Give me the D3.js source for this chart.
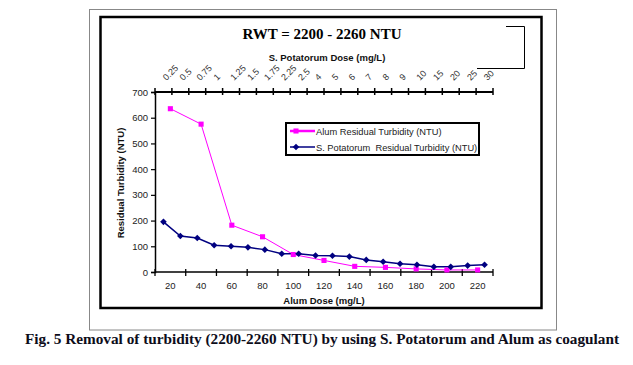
<!DOCTYPE html>
<html>
<head>
<meta charset="utf-8">
<script src="https://cdn.jsdelivr.net/npm/d3@7"></script>
<style>
  body { margin: 0; background: #fff; }
  svg { display: block; }
</style>
</head>
<body>
<div id="chart"></div>
<script>
// data
const alumDose = ["20", "40", "60", "80", "100", "120", "140", "160", "180", "200", "220"];
const alumTurbidity = [635, 575, 182, 137, 68, 45, 22, 18, 12, 8, 8];

const potatorumDose = ["0.25", "0.5", "0.75", "1", "1.25", "1.5", "1.75", "2.25", "2.5", "4",
                       "5", "6", "7", "8", "9", "10", "15", "20", "25", "30"];
const potatorumTurbidity = [195, 140, 132, 104, 100, 96, 87, 71, 71, 64,
                            63, 60, 47, 40, 32, 28, 20, 20, 25, 28];

const yTicks = [0, 100, 200, 300, 400, 500, 600, 700];

const W = 633, H = 365;
const plot = { left: 155, right: 493, top: 92, bottom: 272 };

const svg = d3.select("#chart").append("svg")
    .attr("width", W)
    .attr("height", H);

// frames
svg.append("rect")
    .attr("x", 89.5).attr("y", 9.5).attr("width", 467).attr("height", 320.5)
    .attr("fill", "none").attr("stroke", "#888").attr("stroke-width", 1);
svg.append("rect")
    .attr("x", 100.5).attr("y", 17).attr("width", 441).attr("height", 291)
    .attr("fill", "none").attr("stroke", "#000").attr("stroke-width", 2.5);
svg.append("path")
    .attr("d", "M506,26.5H524.5V68.5H477")
    .attr("fill", "none").attr("stroke", "#000").attr("stroke-width", 1);

const x = d3.scaleBand().domain(alumDose).range([plot.left, plot.right]);
const x2 = d3.scaleBand().domain(potatorumDose).range([plot.left, plot.right]);
const y = d3.scaleLinear().domain([0, 700]).range([plot.bottom, plot.top]);

const labelFont = "'Liberation Sans', Arial, sans-serif";

// y axis
const yAxis = svg.append("g")
    .attr("transform", `translate(${plot.left},0)`)
    .call(d3.axisLeft(y).tickValues(yTicks).tickSize(4).tickPadding(3).tickFormat(d3.format("d")));
yAxis.select(".domain").attr("stroke", "#000").attr("stroke-width", 1.5);
yAxis.selectAll(".tick line").attr("stroke", "#000").attr("stroke-width", 1.2);
yAxis.selectAll("text")
    .attr("font-family", labelFont).attr("font-size", 9.5).attr("fill", "#222");

// bottom axis: labels centred on categories, ticks on category edges
const xAxis = svg.append("g")
    .attr("transform", `translate(0,${plot.bottom})`)
    .call(d3.axisBottom(x).tickSize(0).tickPadding(10));
xAxis.select(".domain").remove();
xAxis.selectAll("text")
    .attr("font-family", labelFont).attr("font-size", 9.5).attr("fill", "#222");

const xEdges = alumDose.map(d => x(d)).concat([x.range()[1]]);
svg.append("line")
    .attr("x1", plot.left).attr("x2", plot.right)
    .attr("y1", plot.bottom).attr("y2", plot.bottom)
    .attr("stroke", "#000").attr("stroke-width", 1.5);
svg.selectAll("line.xtick")
    .data(xEdges)
    .enter().append("line")
    .attr("class", "xtick")
    .attr("x1", d => d).attr("x2", d => d)
    .attr("y1", plot.bottom - 3).attr("y2", plot.bottom + 4)
    .attr("stroke", "#000").attr("stroke-width", 1.3);

// top axis (S. Potatorum dose)
const x2Edges = potatorumDose.map(d => x2(d)).concat([x2.range()[1]]);
svg.append("line")
    .attr("x1", plot.left).attr("x2", plot.right)
    .attr("y1", plot.top).attr("y2", plot.top)
    .attr("stroke", "#000").attr("stroke-width", 2);
svg.selectAll("line.x2tick")
    .data(x2Edges)
    .enter().append("line")
    .attr("class", "x2tick")
    .attr("x1", d => d).attr("x2", d => d)
    .attr("y1", plot.top - 4).attr("y2", plot.top + 3)
    .attr("stroke", "#000").attr("stroke-width", 1.5);
svg.selectAll("text.x2label")
    .data(potatorumDose)
    .enter().append("text")
    .attr("class", "x2label")
    .attr("transform", d => `translate(${x2(d) + x2.bandwidth() / 2 + 3},${plot.top - 11}) rotate(-45)`)
    .attr("text-anchor", "start")
    .attr("font-family", labelFont).attr("font-size", 9)
    .attr("fill", "#333")
    .text(d => d);

// axis titles
svg.append("text")
    .attr("x", 322).attr("y", 39)
    .attr("text-anchor", "middle")
    .attr("font-family", "'Liberation Serif', 'Times New Roman', serif")
    .attr("font-weight", "bold").attr("font-size", 15)
    .text("RWT = 2200 - 2260 NTU");
svg.append("text")
    .attr("x", 327).attr("y", 61)
    .attr("text-anchor", "middle")
    .attr("font-family", labelFont).attr("font-weight", "bold").attr("font-size", 9.5)
    .attr("fill", "#111")
    .text("S. Potatorum Dose (mg/L)");
svg.append("text")
    .attr("x", 324).attr("y", 304)
    .attr("text-anchor", "middle")
    .attr("font-family", labelFont).attr("font-weight", "bold").attr("font-size", 9.5)
    .attr("fill", "#111")
    .text("Alum Dose (mg/L)");
svg.append("text")
    .attr("transform", `translate(124,183) rotate(-90)`)
    .attr("text-anchor", "middle")
    .attr("font-family", labelFont).attr("font-weight", "bold").attr("font-size", 9.5)
    .attr("fill", "#111")
    .text("Residual Turbidity (NTU)");

// series
const pink = "#ff00ff", navy = "#000080";

const alumLine = d3.line()
    .x((d, i) => x(alumDose[i]) + x.bandwidth() / 2)
    .y(d => y(d));
const potLine = d3.line()
    .x((d, i) => x2(potatorumDose[i]) + x2.bandwidth() / 2)
    .y(d => y(d));

svg.append("path")
    .datum(alumTurbidity)
    .attr("d", alumLine)
    .attr("fill", "none").attr("stroke", pink).attr("stroke-width", 1);
svg.append("path")
    .datum(potatorumTurbidity)
    .attr("d", potLine)
    .attr("fill", "none").attr("stroke", navy).attr("stroke-width", 1.5);

const square = d3.symbol().type(d3.symbolSquare).size(26);
// Excel-style diamond: a square turned 45 degrees
const diamond = d3.symbol().type(d3.symbolSquare).size(22);

svg.selectAll("path.alum")
    .data(alumTurbidity)
    .enter().append("path")
    .attr("class", "alum")
    .attr("d", square)
    .attr("transform", (d, i) => `translate(${x(alumDose[i]) + x.bandwidth() / 2},${y(d)})`)
    .attr("fill", pink);
svg.selectAll("path.pot")
    .data(potatorumTurbidity)
    .enter().append("path")
    .attr("class", "pot")
    .attr("d", diamond)
    .attr("transform", (d, i) => `translate(${x2(potatorumDose[i]) + x2.bandwidth() / 2},${y(d)}) rotate(45)`)
    .attr("fill", navy);

// legend
const legend = svg.append("g").attr("transform", "translate(286,123)");
legend.append("rect")
    .attr("width", 193).attr("height", 32)
    .attr("fill", "#fff").attr("stroke", "#000").attr("stroke-width", 2);
const legendItems = [
    { label: "Alum Residual Turbidity (NTU)", color: pink, sym: square, w: 2.5, rot: 0 },
    { label: "S. Potatorum  Residual Turbidity (NTU)", color: navy, sym: diamond, w: 1.5, rot: 45 }
];
legendItems.forEach((d, i) => {
    const g = legend.append("g").attr("transform", `translate(0,${8 + i * 16})`);
    g.append("line").attr("x1", 4).attr("x2", 29).attr("y1", 0).attr("y2", 0)
        .attr("stroke", d.color).attr("stroke-width", d.w);
    g.append("path").attr("d", d.sym).attr("transform", `translate(10,0) rotate(${d.rot})`).attr("fill", d.color);
    g.append("text").attr("x", 30).attr("y", 3.5)
        .attr("font-family", labelFont).attr("font-size", 9.3).attr("fill", "#222")
        .style("white-space", "pre")
        .text(d.label);
});

// caption
svg.append("text")
    .attr("x", 322).attr("y", 344)
    .attr("text-anchor", "middle")
    .attr("font-family", "'Liberation Serif', 'Times New Roman', serif")
    .attr("font-weight", "bold").attr("font-size", 14)
    .attr("fill", "#0d0d1a")
    .attr("textLength", 594).attr("lengthAdjust", "spacingAndGlyphs")
    .text("Fig. 5 Removal of turbidity (2200-2260 NTU) by using S. Potatorum and Alum as coagulant");
</script>
</body>
</html>
